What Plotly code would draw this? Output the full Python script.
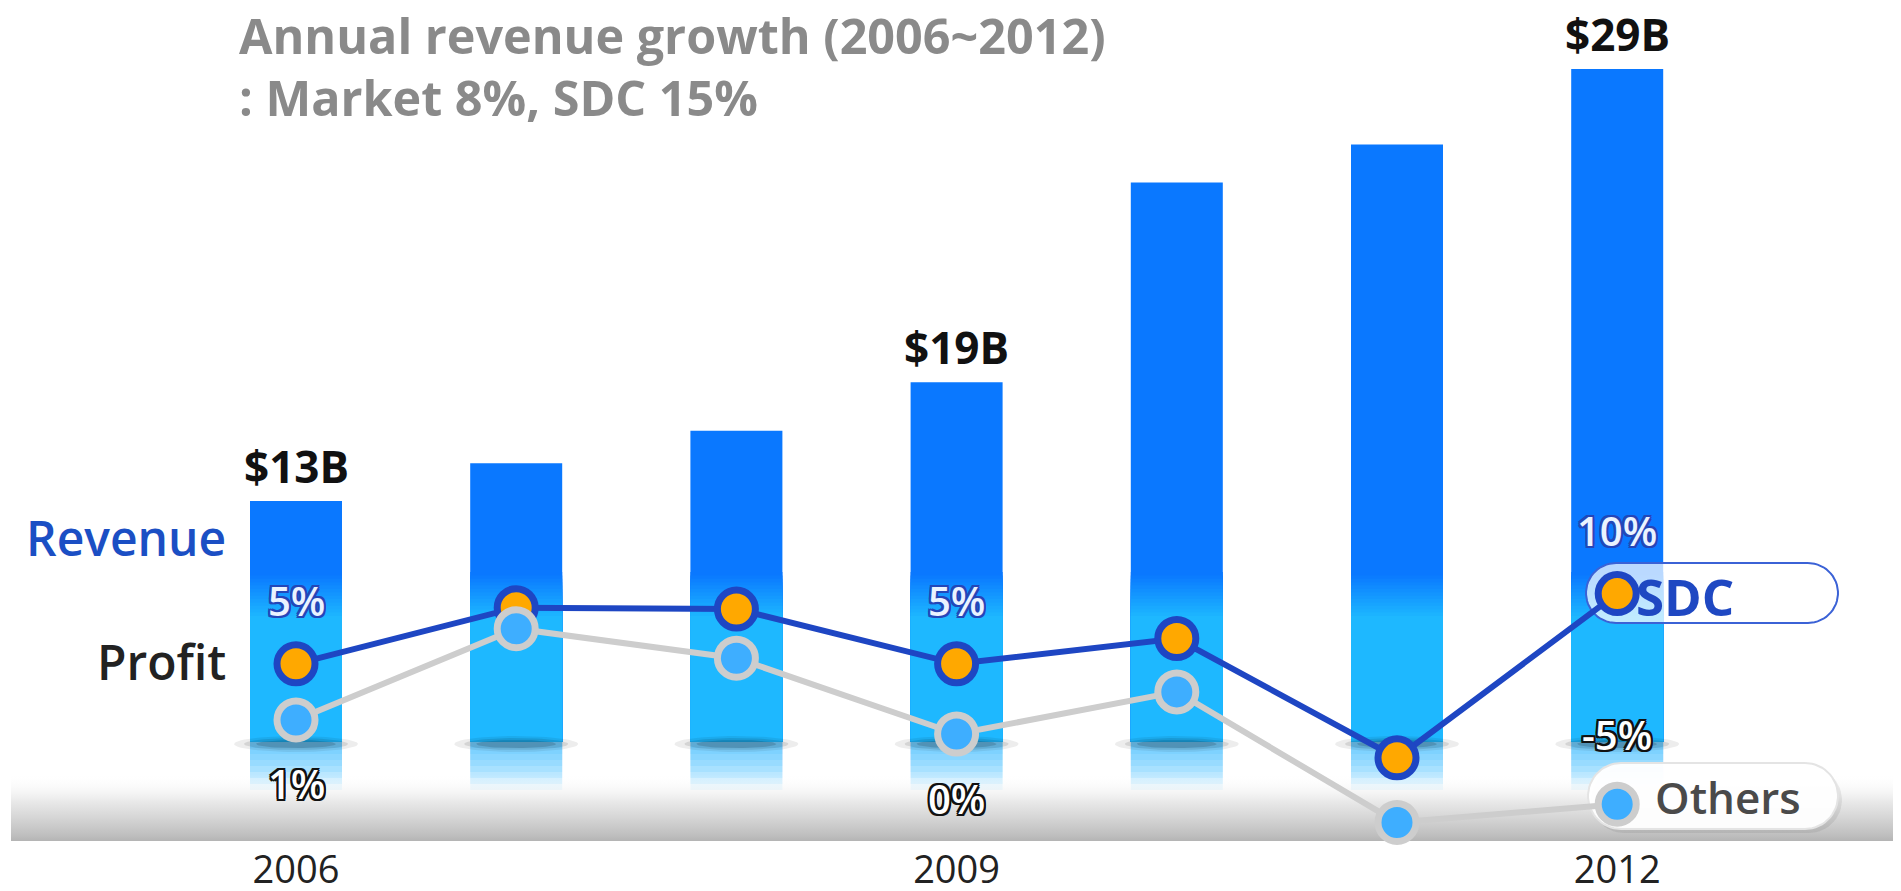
import numpy as np
import plotly.graph_objects as go

# data
years = [2006, 2007, 2008, 2009, 2010, 2011, 2012]
revenue = [13.0, 14.4, 15.6, 17.4, 24.8, 26.2, 29.0]  # $B, bar heights as drawn
revenue_text = ["$13B", "", "", "$19B", "", "", "$29B"]
sdc_profit = [5, 9.0, 8.9, 5, 6.8, -1.7, 10]
others_profit = [1, 7.5, 5.4, 0, 3.0, -6.3, -5]
sdc_text = ["5%", "", "", "5%", "", "", "10%"]
others_text = ["1%", "", "", "0%", "", "", "-5%"]
tick_years = [2006, 2009, 2012]
title_lines = ["Annual revenue growth (2006~2012)", ": Market 8%, SDC 15%"]
series_names = ["SDC", "Others"]

# page geometry (page pixels; the html body adds an 8px margin)
OFF = 8
W, H = 1901 - 2 * OFF, 891 - 2 * OFF
PH = 846                              # plot area height inside the figure
XS = 220.2                            # px per year
X0 = 2006 - (296 - OFF) / XS          # year at the figure's left edge
BASE, RS, BAR_PX = 4.074, 27.0, 742   # revenue axis: bar base, px per $B, bar bottom (page px)
P0_PX, PS = 734, 14.04                # profit axis: page px of 0%, px per %
FONT = "Open Sans"


def xd(px):
    return X0 + (px - OFF) / XS


def yd(py):
    return BASE + (BAR_PX - py) / RS


def y2d(py):
    return (P0_PX - py) / PS


def paper(px, py):
    return (px - OFF) / W, 1 - (py - OFF) / PH


fig = go.Figure()

# bars: dark top, gradient into light blue near the bottom
bar_w = 92 / XS
fig.add_bar(x=years, y=[r - BASE for r in revenue], base=BASE, width=bar_w,
            marker=dict(color="#0A78FF", line_width=0), hoverinfo="skip")
dark, light = np.array([10, 120, 255]), np.array([30, 184, 255])
n = 14
for k in range(n):
    f = k / (n - 1)
    lvl = yd(572 + 44 * f)
    c = (dark + (light - dark) * f).astype(int)
    fig.add_bar(x=years, y=[min(r, lvl) - BASE for r in revenue], base=BASE, width=bar_w,
                marker=dict(color=f"rgb({c[0]},{c[1]},{c[2]})", line_width=0), hoverinfo="skip")
# reflection under the bars
for k in range(8):
    fig.add_bar(x=years, y=[-(6 * (k + 1)) / RS] * len(years), base=BASE, width=bar_w,
                marker=dict(color="rgba(40,180,255,0.12)", line_width=0), hoverinfo="skip")

# shadow under each bar
t = np.linspace(0, 2 * np.pi, 60)
for rx, ry, a in [(62, 8, 0.07), (52, 6, 0.10), (40, 4, 0.14)]:
    xs, ys = [], []
    for yr in years:
        xs += list(yr + rx / XS * np.cos(t)) + [None]
        ys += list(yd(744 + ry * np.sin(t))) + [None]
    fig.add_scatter(x=xs, y=ys, mode="lines", fill="toself", line_width=0,
                    fillcolor=f"rgba(0,0,0,{a})", hoverinfo="skip", showlegend=False)

# grey floor band
bx = [xd(11), xd(1895), xd(1895), xd(11), xd(11)]
by = [yd(841), yd(841), yd(774), yd(774), yd(841)]
fig.add_scatter(x=bx, y=by, mode="lines", fill="toself", line_width=0,
                fillgradient=dict(type="vertical",
                                  colorscale=[[0, "rgb(180,180,180)"], [0.08, "rgb(190,190,190)"],
                                              [0.6, "rgba(232,232,232,0.92)"], [1, "rgba(255,255,255,0)"]]),
                hoverinfo="skip", showlegend=False)


def pill(xa, xb, ya, yb):
    r = (yb - ya) / 2
    cy = ya + r
    th1 = np.linspace(-np.pi / 2, np.pi / 2, 30)
    th2 = np.linspace(np.pi / 2, 3 * np.pi / 2, 30)
    px = list(xb - r + r * np.cos(th1)) + list(xa + r + r * np.cos(th2))
    py = list(cy + r * np.sin(th1)) + list(cy + r * np.sin(th2))
    px.append(px[0])
    py.append(py[0])
    return [xd(v) for v in px], [y2d(v) for v in py]


# legend pills (behind the markers)
sx, sy = pill(1591, 1842, 767, 833)
fig.add_scatter(x=sx, y=sy, yaxis="y2", mode="lines", fill="toself", line_width=0,
                fillcolor="rgba(0,0,0,0.07)", hoverinfo="skip", showlegend=False)
ox, oy = pill(1588, 1838, 763, 829)
fig.add_scatter(x=ox, y=oy, yaxis="y2", mode="lines", fill="toself",
                line=dict(color="#E4E4E4", width=2), fillcolor="rgba(255,255,255,0.96)",
                hoverinfo="skip", showlegend=False)
qx, qy = pill(1586, 1838, 563, 623)
fig.add_scatter(x=qx, y=qy, yaxis="y2", mode="lines", fill="toself",
                line=dict(color="#3B62D6", width=2), fillcolor="rgba(255,255,255,0.72)",
                hoverinfo="skip", showlegend=False)

# profit lines
fig.add_scatter(x=years, y=sdc_profit, yaxis="y2", mode="lines+markers", name=series_names[0],
                line=dict(color="#1E46C3", width=6),
                marker=dict(size=38, color="#FFA800", line=dict(color="#1E46C3", width=7)),
                showlegend=False)
fig.add_scatter(x=years, y=others_profit, yaxis="y2", mode="lines+markers", name=series_names[1],
                line=dict(color="#CDCDCD", width=6),
                marker=dict(size=38, color="#3EAEFF", line=dict(color="#CDCDCD", width=7)),
                showlegend=False)


def outline(col, w=2):
    return ", ".join(f"{dx}px {dy}px 0 {col}" for dx in (-w, 0, w) for dy in (-w, 0, w) if dx or dy)


ann = []
for l1, yy in zip(title_lines, [35, 97]):
    px, py = paper(237, yy)
    ann.append(dict(x=px, y=py, xref="paper", yref="paper", text=l1, showarrow=False,
                    xanchor="left", yanchor="middle",
                    font=dict(family=FONT, size=48.5, color="#8A8A8A", weight=700)))
for yr, r, txt in zip(years, revenue, revenue_text):
    if txt:
        ann.append(dict(x=yr, y=r, xref="x", yref="y", text=txt, showarrow=False,
                        yanchor="bottom", yshift=3,
                        font=dict(family=FONT, size=44, color="#111111", weight=700)))
for yr, v, txt in zip(years, sdc_profit, sdc_text):
    if txt:
        ann.append(dict(x=yr, y=v, xref="x", yref="y2", text=txt, showarrow=False,
                        yanchor="middle", yshift=63,
                        font=dict(family=FONT, size=40, color="#EAF3FF", weight=600,
                                  shadow=outline("#2446B8"))))
for yr, v, txt in zip(years, others_profit, others_text):
    if txt:
        shift = 70 if v < 0 else -64
        ann.append(dict(x=yr, y=v, xref="x", yref="y2", text=txt, showarrow=False,
                        yanchor="middle", yshift=shift,
                        font=dict(family=FONT, size=40, color="#FFFFFF", weight=600,
                                  shadow=outline("#111111"))))
for txt, yy, col in [("Revenue", 537, "#1B4FC4"), ("Profit", 661, "#222222")]:
    px, py = paper(228, yy)
    ann.append(dict(x=px, y=py, xref="paper", yref="paper", text=txt, showarrow=False,
                    xanchor="right", yanchor="middle",
                    font=dict(family=FONT, size=48, color=col, weight=600)))
px, py = paper(1634, 596)
ann.append(dict(x=px, y=py, xref="paper", yref="paper", text=series_names[0], showarrow=False,
                xanchor="left", yanchor="middle",
                font=dict(family=FONT, size=51, color="#1F48C2", weight=700)))
px, py = paper(1653, 797)
ann.append(dict(x=px, y=py, xref="paper", yref="paper", text=series_names[1], showarrow=False,
                xanchor="left", yanchor="middle",
                font=dict(family=FONT, size=44, color="#4A4A4A", weight=600)))

fig.update_layout(
    width=W, height=H,
    margin=dict(l=0, r=0, t=0, b=H - PH),
    paper_bgcolor="white", plot_bgcolor="white",
    barmode="overlay", showlegend=False,
    xaxis=dict(range=[X0, X0 + W / XS], tickvals=tick_years, ticktext=[str(v) for v in tick_years],
               showgrid=False, zeroline=False, showline=False, ticks="", automargin=False,
               ticklabelstandoff=-10,
               tickfont=dict(family=FONT, size=38, color="#222222")),
    yaxis=dict(range=[yd(PH + OFF), yd(OFF)], visible=False, showgrid=False, zeroline=False,
               automargin=False),
    yaxis2=dict(range=[y2d(PH + OFF), y2d(OFF)], overlaying="y", visible=False,
                showgrid=False, zeroline=False, automargin=False),
    annotations=ann,
)

fig.write_html("out.html")
